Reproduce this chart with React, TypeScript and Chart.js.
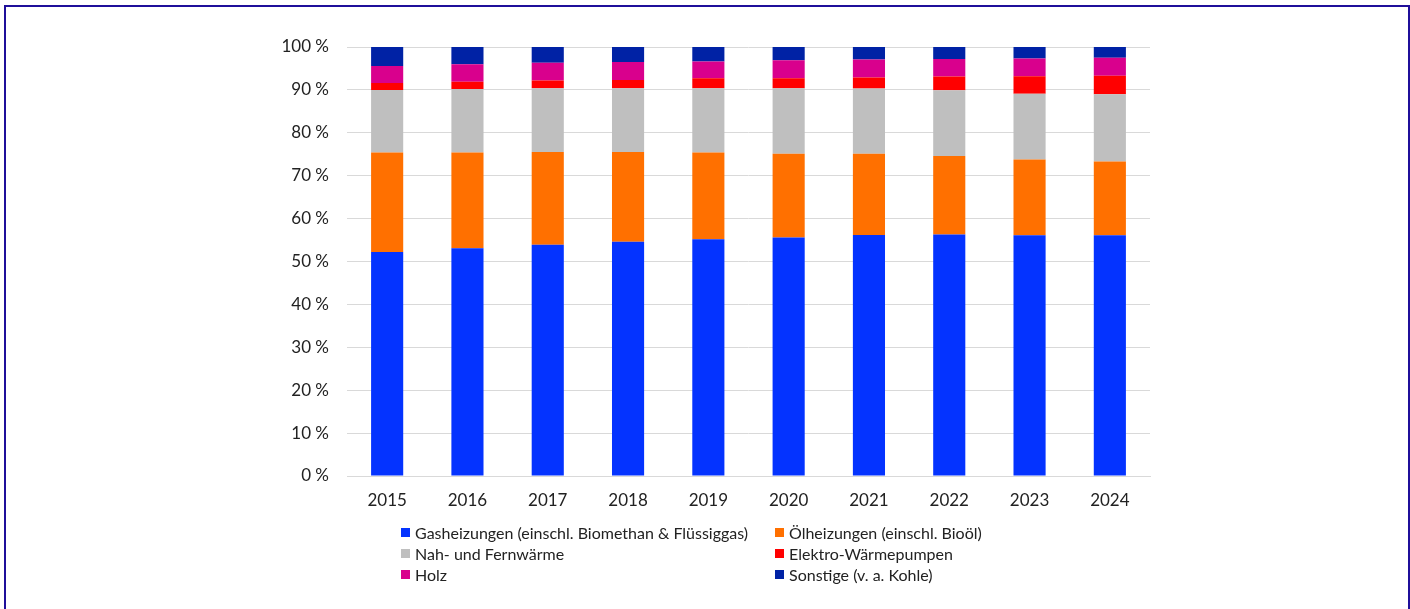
import React, { useEffect, useRef } from "react";
import { Chart, registerables } from "chart.js";

Chart.register(...registerables);

const YEARS = ["2015", "2016", "2017", "2018", "2019", "2020", "2021", "2022", "2023", "2024"];
const GAS = [52.2, 53.1, 53.9, 54.6, 55.2, 55.6, 56.2, 56.3, 56.1, 56.1];
const OIL = [23.2, 22.3, 21.6, 20.9, 20.2, 19.5, 18.9, 18.3, 17.7, 17.2];
const FERN = [14.6, 14.8, 14.9, 14.9, 15.0, 15.3, 15.2, 15.3, 15.3, 15.7];
const WP = [1.6, 1.7, 1.8, 1.9, 2.3, 2.3, 2.6, 3.2, 4.1, 4.3];
const HOLZ = [4.0, 4.1, 4.1, 4.2, 3.9, 4.2, 4.2, 4.1, 4.1, 4.2];
const SONST = [4.4, 4.0, 3.7, 3.5, 3.4, 3.1, 2.9, 2.8, 2.7, 2.5];
const Y_TICKS = [0, 10, 20, 30, 40, 50, 60, 70, 80, 90, 100];

const SERIES = [
  { label: "Gasheizungen (einschl. Biomethan & Flüssiggas)", data: GAS, color: "#0433FF" },
  { label: "Ölheizungen (einschl. Bioöl)", data: OIL, color: "#FF7000" },
  { label: "Nah- und Fernwärme", data: FERN, color: "#BFBFBF" },
  { label: "Elektro-Wärmepumpen", data: WP, color: "#FF0000" },
  { label: "Holz", data: HOLZ, color: "#D9008D" },
  { label: "Sonstige (v. a. Kohle)", data: SONST, color: "#0022A5" },
];

const FONT = "Lato, 'Open Sans', sans-serif";
const TEXT = "#222222";

export default function App() {
  const ref = useRef<HTMLCanvasElement | null>(null);

  useEffect(() => {
    document.documentElement.style.overflow = "hidden";
    document.body.style.overflow = "hidden";
    const ctx = ref.current;
    if (!ctx) return;
    const chart = new Chart(ctx, {
      type: "bar",
      data: {
        labels: YEARS,
        datasets: SERIES.map((s) => ({
          label: s.label,
          data: s.data,
          backgroundColor: s.color,
          borderWidth: 0,
          barPercentage: 0.8,
          categoryPercentage: 0.5,
        })),
      },
      options: {
        animation: false,
        responsive: false,
        maintainAspectRatio: false,
        layout: { padding: { left: 260, right: 260, top: 47, bottom: 93 } },
        plugins: { legend: { display: false }, tooltip: { enabled: false } },
        scales: {
          x: {
            stacked: true,
            grid: { display: false, drawTicks: false },
            border: { display: true, color: "#D9D9D9", width: 1 },
            ticks: { color: TEXT, font: { family: FONT, size: 17 }, padding: 14 },
            afterFit: (s: any) => { s.height = 40; },
          },
          y: {
            stacked: true,
            min: 0,
            max: 100,
            afterBuildTicks: (s: any) => { s.ticks = Y_TICKS.map((v) => ({ value: v })); },
            grid: { color: "#D9D9D9", drawTicks: false, lineWidth: 1 },
            border: { display: false },
            ticks: {
              color: TEXT,
              font: { family: FONT, size: 17 },
              padding: 18,
              callback: (v: any) => `${v} %`,
            },
            afterFit: (s: any) => { s.width = 87; },
          },
        },
      },
    });
    return () => chart.destroy();
  }, []);

  const rows = [
    [SERIES[0], SERIES[1]],
    [SERIES[2], SERIES[3]],
    [SERIES[4], SERIES[5]],
  ];
  const colX = [401, 775];
  const rowY = [532, 553, 574];

  return (
    <div>
      <div
        style={{
          position: "absolute",
          left: 4,
          top: 5,
          width: 1406,
          height: 620,
          boxSizing: "border-box",
          border: "2px solid #1F0F9A",
          background: "#fff",
        }}
      />
      <canvas
        ref={ref}
        width={1410}
        height={609}
        style={{ position: "absolute", left: 0, top: 0, width: 1410, height: 609 }}
      />
      {rows.map((row, ri) =>
        row.map((s, ci) => (
          <div
            key={s.label}
            style={{
              position: "absolute",
              left: colX[ci],
              top: rowY[ri] - 10,
              height: 20,
              display: "flex",
              alignItems: "center",
              fontFamily: FONT,
              fontSize: 16,
              color: TEXT,
              whiteSpace: "nowrap",
            }}
          >
            <span style={{ display: "inline-block", width: 9, height: 9, background: s.color, marginRight: 5 }} />
            <span>{s.label}</span>
          </div>
        ))
      )}
    </div>
  );
}
